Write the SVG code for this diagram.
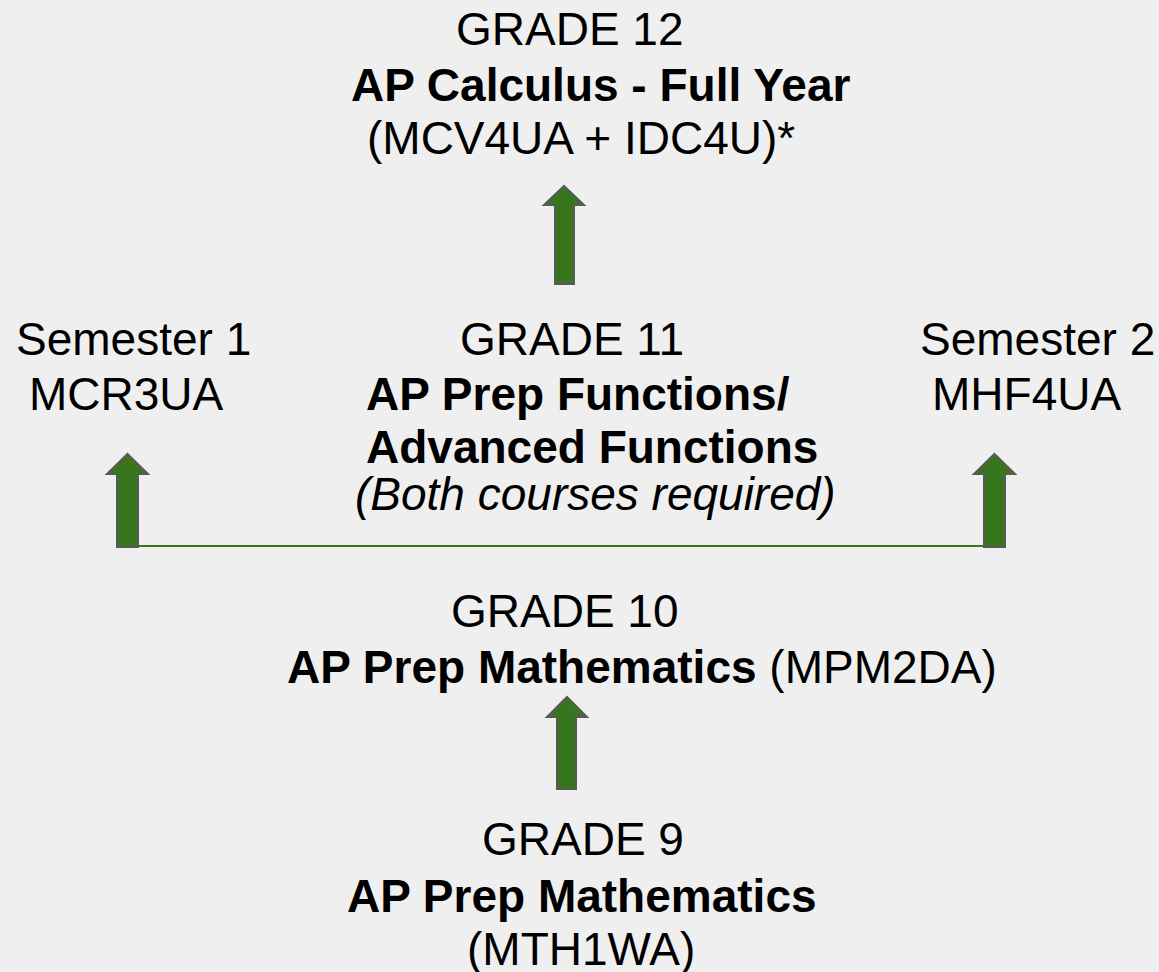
<svg xmlns="http://www.w3.org/2000/svg" width="1159" height="972" viewBox="0 0 1159 972">
<style>
text{font-family:"Liberation Sans",Arial,sans-serif;font-size:46px;fill:#000}
.b{font-weight:bold}
.i{font-style:italic}
.arrow{fill:#38761d;stroke:#595959;stroke-width:2;stroke-linejoin:miter}
.line{stroke:#38761d;stroke-width:2;fill:none}
</style>
<rect width="1159" height="972" fill="#efefef"/>
<g id="grade12">
<text x="456" y="45">GRADE 12</text>
<text class="b" x="351" y="101">AP Calculus - Full Year</text>
<text x="367" y="154">(MCV4UA + IDC4U)*</text>
</g>
<g id="semester1">
<text x="16" y="355">Semester 1</text>
<text x="29" y="410">MCR3UA</text>
</g>
<g id="grade11">
<text x="460" y="355">GRADE 11</text>
<text class="b" x="366" y="410">AP Prep Functions/</text>
<text class="b" x="366" y="463">Advanced Functions</text>
<text class="i" x="355" y="510">(Both courses required)</text>
</g>
<g id="semester2">
<text x="920" y="355">Semester 2</text>
<text x="932" y="410">MHF4UA</text>
</g>
<g id="grade10">
<text x="451" y="627">GRADE 10</text>
<text x="287" y="683"><tspan class="b">AP Prep Mathematics</tspan> (MPM2DA)</text>
</g>
<g id="grade9">
<text x="482" y="855">GRADE 9</text>
<text class="b" x="347" y="912">AP Prep Mathematics</text>
<text x="467" y="965">(MTH1WA)</text>
</g>
<g id="connectors">
<polyline class="line" points="137,546 985,546"/>
<path class="arrow" d="M564,186 L584,205 L574,205 L574,284 L555,284 L555,205 L544,205 Z"/>
<path class="arrow" d="M127.5,454 L148,474 L138,474 L138,547 L117,547 L117,474 L107,474 Z"/>
<path class="arrow" d="M994.5,454 L1015,474 L1005,474 L1005,547 L984,547 L984,474 L974,474 Z"/>
<path class="arrow" d="M567,697 L587,717 L576,717 L576,789 L557,789 L557,717 L547,717 Z"/>
</g>
</svg>
